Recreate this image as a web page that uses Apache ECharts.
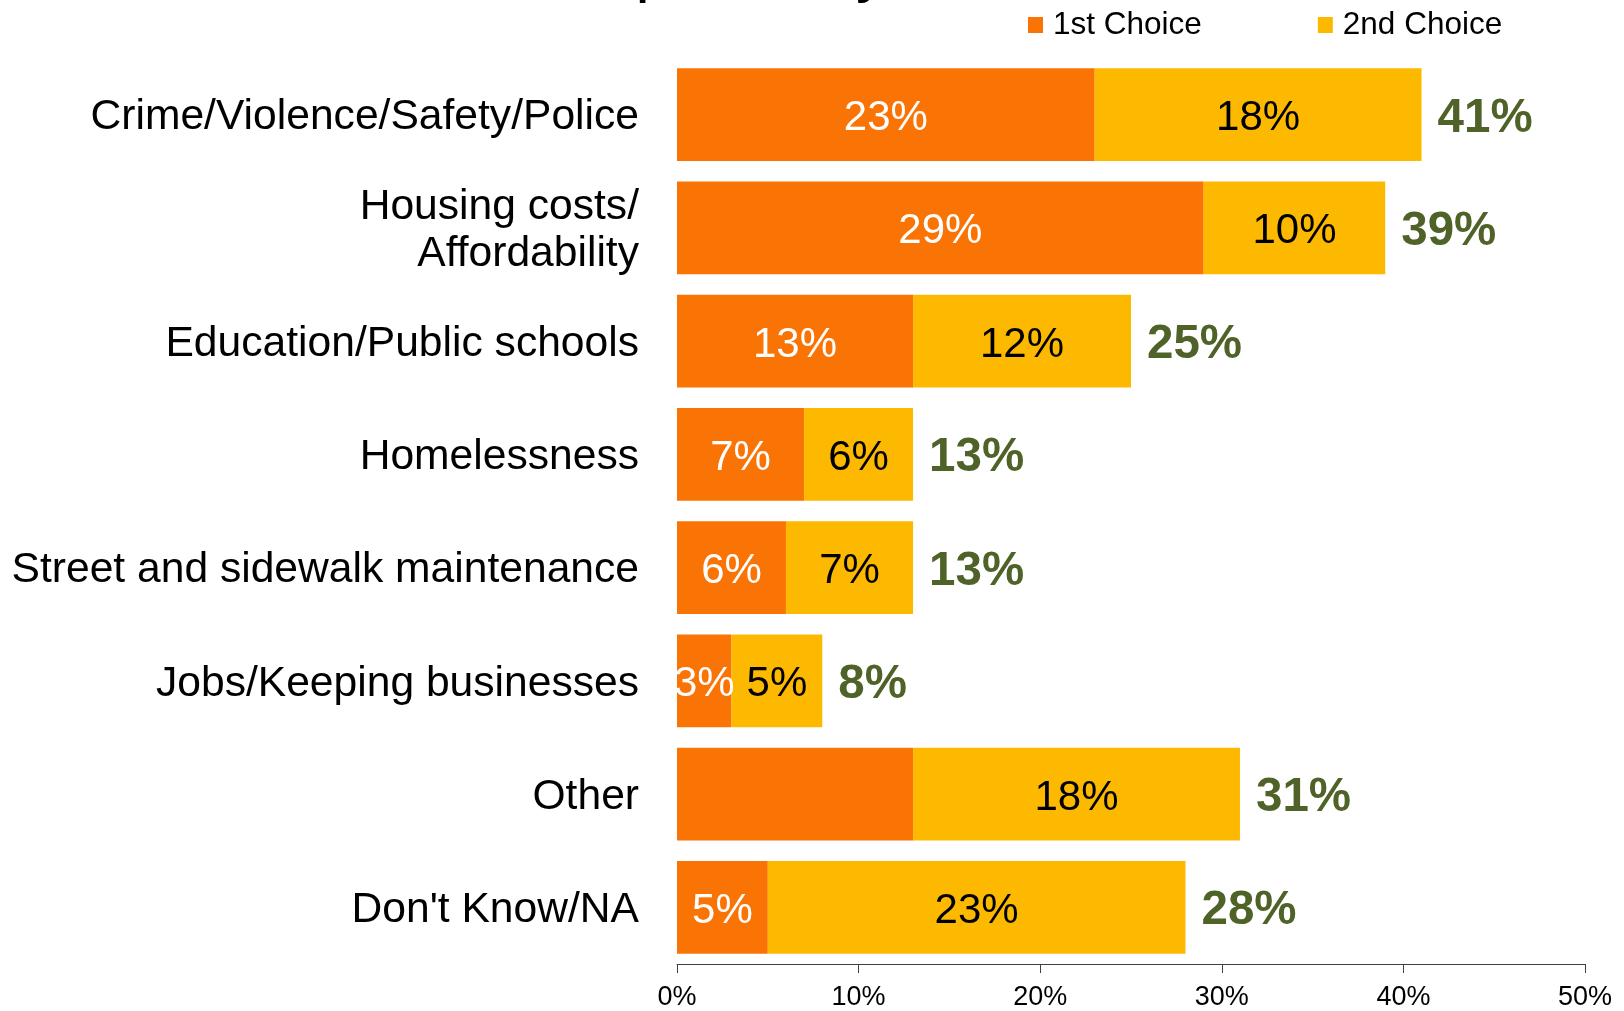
<!DOCTYPE html>
<html>
<head>
<meta charset="utf-8">
<script src="https://cdn.jsdelivr.net/npm/echarts@6/dist/echarts.min.js"></script>
<style>
html,body{margin:0;padding:0;background:#fff;}
#chart{width:1624px;height:1011px;}
</style>
</head>
<body>
<div id="chart"></div>
<script>
var categories = [
  'Crime/Violence/Safety/Police',
  'Housing costs/\nAffordability',
  'Education/Public schools',
  'Homelessness',
  'Street and sidewalk maintenance',
  'Jobs/Keeping businesses',
  'Other',
  "Don't Know/NA"
];
var firstChoice = [23, 29, 13, 7, 6, 3, 13, 5];
var secondChoice = [18, 10, 12, 6, 7, 5, 18, 23];
var totals = [41, 39, 25, 13, 13, 8, 31, 28];
var firstLabelHidden = ['Other'];
var xTicks = [0, 10, 20, 30, 40, 50];
var titleText = 'Top Priority';

var FONT = '"Liberation Sans", Arial, sans-serif';
var chart = echarts.init(document.getElementById('chart'), null, {renderer: 'canvas'});

var firstData = firstChoice.map(function (v, i) {
  var hide = firstLabelHidden.indexOf(categories[i]) >= 0;
  return hide ? {value: v, label: {show: false}} : v;
});

chart.setOption({
  backgroundColor: '#ffffff',
  animation: false,
  graphic: [{
    type: 'text',
    left: 568,
    top: -60,
    style: {text: titleText, font: '64px ' + FONT, fill: '#000'}
  }],
  legend: {
    left: 1028,
    top: 9,
    padding: 0,
    itemWidth: 15,
    itemHeight: 16,
    itemGap: 116,
    icon: 'rect',
    textStyle: {fontSize: 31.5, fontFamily: FONT, color: '#000', padding: [0, 0, 0, 5]},
    data: ['1st Choice', '2nd Choice']
  },
  grid: {left: 677, right: 39, top: 58, bottom: 45, containLabel: false},
  xAxis: {
    type: 'value',
    min: xTicks[0],
    max: xTicks[xTicks.length - 1],
    interval: 10,
    axisLine: {show: true, lineStyle: {color: '#404040', width: 1}},
    axisTick: {show: true, length: 9, lineStyle: {color: '#404040'}},
    splitLine: {show: false},
    axisLabel: {formatter: '{value}%', fontSize: 27, fontFamily: FONT, color: '#000', margin: 20}
  },
  yAxis: {
    type: 'category',
    inverse: true,
    data: categories,
    axisLine: {show: false},
    axisTick: {show: false},
    axisLabel: {
      margin: 38, align: 'right',
      formatter: function (v) {
        return '{s| }\n' + v.split('\n').map(function (l) { return '{t|' + l + '}'; }).join('\n');
      },
      rich: {
        s: {fontSize: 2, lineHeight: 6},
        t: {fontSize: 42.6, fontFamily: FONT, color: '#000', lineHeight: 47}
      }
    }
  },
  series: [{
    name: '1st Choice',
    type: 'bar',
    stack: 'total',
    barWidth: '82%',
    data: firstData,
    itemStyle: {color: '#FA7305'},
    label: {show: true, position: 'inside', offset: [0, 4], formatter: '{c}%', color: '#fff', fontSize: 42, fontFamily: FONT}
  }, {
    name: '2nd Choice',
    type: 'bar',
    stack: 'total',
    barWidth: '82%',
    data: secondChoice,
    itemStyle: {color: '#FDB900'},
    label: {show: true, position: 'inside', offset: [0, 4], formatter: '{c}%', color: '#000', fontSize: 42, fontFamily: FONT}
  }, {
    name: 'Total',
    type: 'bar',
    stack: 'total',
    barWidth: '82%',
    silent: true,
    data: totals.map(function () { return 0; }),
    itemStyle: {color: 'rgba(0,0,0,0)'},
    label: {
      show: true, position: 'right', distance: 16, offset: [0, 4],
      formatter: function (p) { return totals[p.dataIndex] + '%'; },
      color: '#4F6228', fontSize: 47.5, fontWeight: 'bold', fontFamily: FONT
    }
  }]
});
</script>
</body>
</html>
